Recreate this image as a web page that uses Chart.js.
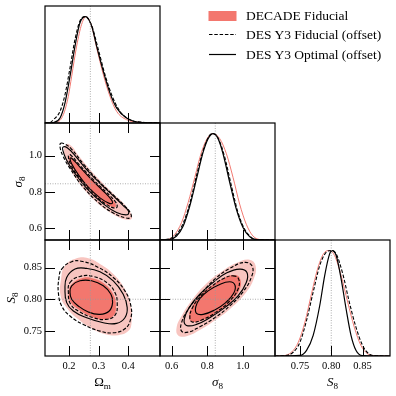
<!DOCTYPE html>
<html><head><meta charset="utf-8">
<script src="https://cdn.jsdelivr.net/npm/chart.js@4.4.0/dist/chart.umd.min.js"></script>
<style>
html,body{margin:0;padding:0;background:#fff;width:396px;height:396px;overflow:hidden;}
#wrap{position:relative;width:396px;height:396px;}
canvas{position:absolute;left:0;top:0;}
.t{position:absolute;font-family:"Liberation Serif","DejaVu Serif",serif;color:#000;white-space:nowrap;line-height:1;}
.t sub{font-size:70%;vertical-align:-0.25em;}
.i{font-style:italic;}
</style></head><body>
<div id="wrap">
<canvas id="c0" width="396" height="396"></canvas>
<canvas id="c1" width="396" height="396"></canvas>
<canvas id="c2" width="396" height="396"></canvas>
<canvas id="c3" width="396" height="396"></canvas>
<canvas id="c4" width="396" height="396"></canvas>
<canvas id="c5" width="396" height="396"></canvas>
<svg style="position:absolute;left:0;top:0" width="396" height="396">
<rect x="208.5" y="11" width="28" height="10" fill="#F3776E"/>
<line x1="209" y1="34.5" x2="236" y2="34.5" stroke="#000" stroke-width="1.1" stroke-dasharray="3.5 1.8"/>
<line x1="209" y1="54.5" x2="236" y2="54.5" stroke="#000" stroke-width="1.2"/>
</svg>
<div class="t" style="left:246px;top:9px;font-size:13.5px;">DECADE Fiducial</div>
<div class="t" style="left:246px;top:28px;font-size:13.5px;">DES Y3 Fiducial (offset)</div>
<div class="t" style="left:246px;top:47.5px;font-size:13.5px;">DES Y3 Optimal (offset)</div>
<div class="t" style="left:102.5px;top:383px;font-size:13px;transform:translate(-50%,-50%);">&Omega;<sub>m</sub></div>
<div class="t" style="left:217.5px;top:383px;font-size:13px;transform:translate(-50%,-50%);"><span class="i">&sigma;</span><sub>8</sub></div>
<div class="t" style="left:332.5px;top:383px;font-size:13px;transform:translate(-50%,-50%);"><span class="i">S</span><sub>8</sub></div>
<div class="t" style="left:19px;top:181.5px;font-size:13px;transform:translate(-50%,-50%) rotate(-90deg);"><span class="i">&sigma;</span><sub>8</sub></div>
<div class="t" style="left:12px;top:298px;font-size:13px;transform:translate(-50%,-50%) rotate(-90deg);"><span class="i">S</span><sub>8</sub></div>
</div>
<script>
// ---- axis ranges & ticks ----
const omRange = [0.119, 0.507];
const sigRange = [0.535, 1.18];
const s8Range = [0.710, 0.894];
const pdfRange = [0, 1.1];
const omTicks = [0.2, 0.3, 0.4];
const sigTicks = [0.6, 0.8, 1.0];
const s8Ticks = [0.75, 0.80, 0.85];
const omRef = 0.272, sigRef = 0.845, s8Ref = 0.80;

// ---- 1D marginals [x, p] ----
const omDecade = [[0.119,0],[0.1585,0.006],[0.1809,0.079],[0.1978,0.252],[0.2090,0.440],[0.2258,0.723],[0.2426,0.928],[0.2572,1.0],[0.2763,0.912],[0.2932,0.708],[0.3156,0.456],[0.3380,0.252],[0.3605,0.110],[0.3942,0.031],[0.4391,0.006],[0.507,0]];
const omFid = [[0.119,0],[0.136,0.003],[0.1473,0.031],[0.1697,0.110],[0.1865,0.267],[0.2034,0.519],[0.2202,0.786],[0.2370,0.959],[0.2539,1.0],[0.2763,0.918],[0.2988,0.692],[0.3212,0.456],[0.3437,0.267],[0.3717,0.110],[0.4054,0.031],[0.4503,0.006],[0.507,0]];
const omOpt = [[0.119,0],[0.1473,0.005],[0.1697,0.047],[0.1865,0.189],[0.2034,0.440],[0.2202,0.723],[0.2370,0.943],[0.2561,1.0],[0.2763,0.912],[0.2932,0.723],[0.3156,0.487],[0.3380,0.283],[0.3605,0.142],[0.3942,0.047],[0.4391,0.006],[0.495,0],[0.507,0]];
const sigDecade = [[0.535,0],[0.5814,0.006],[0.6186,0.054],[0.6559,0.164],[0.6931,0.353],[0.7304,0.590],[0.7676,0.826],[0.8048,0.968],[0.8328,1.0],[0.8700,0.953],[0.9073,0.811],[0.9445,0.590],[0.9817,0.338],[1.0190,0.148],[1.0562,0.038],[1.1028,0.003],[1.18,0]];
const sigFid = [[0.535,0],[0.5907,0.013],[0.6279,0.054],[0.6652,0.158],[0.7024,0.347],[0.7397,0.606],[0.7769,0.842],[0.8104,0.978],[0.8328,1.0],[0.8607,0.959],[0.8980,0.779],[0.9352,0.511],[0.9724,0.259],[1.0097,0.101],[1.0469,0.025],[1.0842,0.003],[1.18,0]];
const sigOpt = [[0.535,0],[0.5907,0.006],[0.6279,0.038],[0.6652,0.132],[0.7024,0.322],[0.7397,0.574],[0.7769,0.826],[0.8048,0.953],[0.8328,1.0],[0.8607,0.953],[0.8886,0.811],[0.9259,0.543],[0.9631,0.290],[1.0004,0.117],[1.0376,0.032],[1.0749,0.003],[1.18,0]];
const s8Decade = [[0.71,0],[0.7237,0.003],[0.7368,0.038],[0.7474,0.132],[0.7579,0.322],[0.7684,0.590],[0.7789,0.842],[0.7895,0.984],[0.7974,1.0],[0.8053,0.953],[0.8158,0.763],[0.8263,0.511],[0.8368,0.274],[0.8474,0.101],[0.8579,0.022],[0.8711,0.003],[0.894,0]];
const s8Fid = [[0.71,0],[0.7263,0.003],[0.7395,0.038],[0.75,0.132],[0.7605,0.338],[0.7711,0.606],[0.7816,0.858],[0.7921,0.984],[0.8,1.0],[0.8079,0.968],[0.8184,0.779],[0.8289,0.511],[0.8395,0.274],[0.85,0.101],[0.8605,0.019],[0.8711,0.003],[0.894,0]];
const s8Opt = [[0.71,0],[0.75,0.006],[0.7605,0.054],[0.7711,0.196],[0.7816,0.479],[0.7895,0.763],[0.7974,0.968],[0.8016,1.0],[0.8079,0.953],[0.8158,0.732],[0.8237,0.448],[0.8316,0.196],[0.8395,0.054],[0.85,0.003],[0.894,0]];

// ---- 2D contours (closed loops) ----
const omSigDec95 = [[0.1930,1.064],[0.2100,1.050],[0.2258,1.015],[0.2651,0.935],[0.3044,0.865],[0.3493,0.792],[0.3886,0.730],[0.4088,0.682],[0.4120,0.655],[0.3998,0.646],[0.3661,0.662],[0.3268,0.700],[0.2819,0.760],[0.2314,0.855],[0.2000,0.940],[0.1830,1.020]];
const omSigDec68 = [[0.2090,0.990],[0.2426,0.932],[0.2819,0.864],[0.3212,0.801],[0.3493,0.753],[0.3583,0.724],[0.3493,0.715],[0.3156,0.744],[0.2707,0.809],[0.2314,0.888],[0.2034,0.963],[0.2000,0.996]];
const omSigOpt95 = [[0.1800,1.048],[0.1950,1.042],[0.2202,1.000],[0.2595,0.923],[0.3044,0.848],[0.3493,0.778],[0.3829,0.725],[0.4010,0.693],[0.3960,0.674],[0.3605,0.687],[0.3156,0.735],[0.2595,0.820],[0.2146,0.915],[0.1900,0.982],[0.1790,1.030]];
const omSigOpt68 = [[0.2090,0.986],[0.2370,0.937],[0.2763,0.868],[0.3156,0.805],[0.3414,0.760],[0.3470,0.740],[0.3358,0.737],[0.3044,0.767],[0.2651,0.826],[0.2314,0.895],[0.2090,0.955],[0.2034,0.984]];
const omSigFid95 = [[0.1720,1.068],[0.1880,1.062],[0.2090,1.035],[0.2483,0.955],[0.2988,0.862],[0.3493,0.783],[0.3886,0.722],[0.4088,0.679],[0.4076,0.658],[0.3886,0.658],[0.3493,0.684],[0.3044,0.735],[0.2483,0.826],[0.2034,0.930],[0.1800,0.997],[0.1700,1.045]];
const omSigFid68 = [[0.2034,1.006],[0.2370,0.946],[0.2819,0.868],[0.3268,0.797],[0.3549,0.749],[0.3627,0.721],[0.3549,0.710],[0.3246,0.733],[0.2819,0.790],[0.2370,0.872],[0.2056,0.952],[0.1978,0.998]];

const omS8Dec95 = [[0.1865,0.8532],[0.2258,0.8649],[0.2651,0.8649],[0.3044,0.8559],[0.3493,0.8399],[0.3886,0.8160],[0.4088,0.7894],[0.4110,0.7628],[0.3998,0.7495],[0.3661,0.7431],[0.3268,0.7441],[0.2819,0.7521],[0.2314,0.7681],[0.1921,0.7867],[0.1719,0.8053],[0.1731,0.8319]];
const omS8Dec68 = [[0.2090,0.8239],[0.2426,0.8335],[0.2819,0.8330],[0.3212,0.8239],[0.3493,0.8080],[0.3583,0.7894],[0.3493,0.7734],[0.3156,0.7681],[0.2707,0.7734],[0.2314,0.7840],[0.2034,0.7973],[0.2000,0.8133]];
const omS8Opt95 = [[0.1921,0.8346],[0.2202,0.8479],[0.2595,0.8489],[0.3044,0.8436],[0.3493,0.8293],[0.3829,0.8080],[0.3964,0.7867],[0.3886,0.7707],[0.3605,0.7617],[0.3156,0.7628],[0.2595,0.7707],[0.2146,0.7814],[0.1921,0.7947],[0.1865,0.8160]];
const omS8Opt68 = [[0.2090,0.8213],[0.2370,0.8293],[0.2763,0.8293],[0.3156,0.8213],[0.3414,0.8080],[0.3470,0.7947],[0.3358,0.7814],[0.3044,0.7761],[0.2651,0.7798],[0.2314,0.7894],[0.2090,0.8000],[0.2034,0.8106]];
const omS8Fid95 = [[0.1753,0.8479],[0.2090,0.8596],[0.2483,0.8596],[0.2988,0.8505],[0.3493,0.8346],[0.3886,0.8133],[0.4088,0.7894],[0.4076,0.7681],[0.3886,0.7532],[0.3493,0.7468],[0.3044,0.7495],[0.2483,0.7601],[0.2034,0.7734],[0.1753,0.7894],[0.1641,0.8106],[0.1663,0.8346]];
const omS8Fid68 = [[0.2034,0.8266],[0.2370,0.8362],[0.2819,0.8362],[0.3268,0.8266],[0.3549,0.8106],[0.3627,0.7920],[0.3549,0.7745],[0.3246,0.7681],[0.2819,0.7707],[0.2370,0.7798],[0.2056,0.7920],[0.1978,0.8106]];

const sigS8Dec95 = [[1.0376,0.8628],[1.0711,0.8532],[1.0600,0.8319],[1.0097,0.8080],[0.9352,0.7867],[0.8514,0.7681],[0.7583,0.7511],[0.6838,0.7415],[0.6372,0.7426],[0.6279,0.7548],[0.6559,0.7734],[0.7210,0.8011],[0.7955,0.8250],[0.8793,0.8436],[0.9631,0.8574]];
const sigS8Dec68 = [[0.9538,0.8383],[0.9855,0.8319],[0.9817,0.8160],[0.9352,0.7973],[0.8607,0.7798],[0.7862,0.7681],[0.7210,0.7638],[0.6987,0.7707],[0.7117,0.7867],[0.7583,0.8053],[0.8235,0.8213],[0.8886,0.8330]];
const sigS8Opt95 = [[0.9817,0.8479],[1.0227,0.8426],[1.0190,0.8266],[0.9724,0.8053],[0.8980,0.7867],[0.8142,0.7707],[0.7397,0.7601],[0.6838,0.7585],[0.6708,0.7681],[0.6987,0.7867],[0.7583,0.8080],[0.8328,0.8266],[0.9073,0.8415]];
const sigS8Opt68 = [[0.9259,0.8277],[0.9557,0.8223],[0.9482,0.8096],[0.9035,0.7947],[0.8421,0.7830],[0.7769,0.7761],[0.7397,0.7777],[0.7359,0.7883],[0.7583,0.8011],[0.8048,0.8133],[0.8607,0.8223]];
const sigS8Fid95 = [[1.0097,0.8585],[1.0525,0.8521],[1.0469,0.8346],[1.0004,0.8117],[0.9259,0.7894],[0.8421,0.7707],[0.7583,0.7564],[0.6931,0.7479],[0.6559,0.7495],[0.6559,0.7628],[0.6931,0.7840],[0.7583,0.8064],[0.8421,0.8319],[0.9259,0.8489]];
const sigS8Fid68 = [[0.9445,0.8372],[0.9762,0.8319],[0.9724,0.8160],[0.9259,0.7973],[0.8514,0.7798],[0.7769,0.7681],[0.7173,0.7638],[0.7024,0.7707],[0.7173,0.7867],[0.7676,0.8064],[0.8328,0.8223],[0.8924,0.8330]];

// ---- styling ----
const RED = '#F3776E', PINK = '#F8C5C0', RED_LINE = '#F27A72';
const FONT = "'Liberation Serif','DejaVu Serif',serif";
const DASH = [3.5, 1.8];
const COLS = [45, 160, 275, 390];
const ROWS = [6, 123, 240, 356];
const XAXIS_H = 20, YAXIS_W = 44;

const pts = a => a.map(p => ({x: p[0], y: p[1]}));
function curve(a, color, dash, w) {
  return {data: pts(a), borderColor: color, borderDash: dash || [], borderWidth: w, pointRadius: 0, fill: false, cubicInterpolationMode: 'monotone'};
}
function ring(a, dash) {
  return {data: pts(a), borderColor: '#000', borderDash: dash || [], borderWidth: 1.15, pointRadius: 0, fill: false, tension: 0.45, loop: true};
}
function area(a, color) {
  return {data: pts(a), borderColor: 'rgba(0,0,0,0)', borderWidth: 0, backgroundColor: color, pointRadius: 0, fill: 'shape', tension: 0.45, loop: true};
}

const loopPlugin = {
  id: 'loopfix',
  afterDatasetUpdate(chart, args) {
    const ds = chart.data.datasets[args.index];
    if (ds.loop) {
      const l = args.meta.dataset;
      l._loop = true; l._fullLoop = true; l._pointsUpdated = false;
      delete l._segments; delete l._path;
    }
  }
};

function panelPlugin(cfg) {
  return {
    id: 'panel',
    afterDatasetsDraw(chart) {
      const ctx = chart.ctx, a = chart.chartArea, xs = chart.scales.x, ys = chart.scales.y;
      ctx.save();
      ctx.strokeStyle = '#9a9a9a'; ctx.lineWidth = 0.8; ctx.setLineDash([1, 1.5]);
      const seg = (x1, y1, x2, y2) => { ctx.beginPath(); ctx.moveTo(x1, y1); ctx.lineTo(x2, y2); ctx.stroke(); };
      if (cfg.refX != null) { const p = xs.getPixelForValue(cfg.refX); seg(p, a.top, p, a.bottom); }
      if (cfg.refY != null) { const p = ys.getPixelForValue(cfg.refY); seg(a.left, p, a.right, p); }
      ctx.setLineDash([]); ctx.strokeStyle = '#000'; ctx.lineWidth = 1;
      const L = 10;
      cfg.xt.forEach(v => {
        const p = Math.round(xs.getPixelForValue(v)) + 0.5;
        seg(p, a.bottom, p, a.bottom - L);
        if (cfg.full) seg(p, a.top, p, a.top + L);
      });
      if (cfg.full) cfg.yt.forEach(v => {
        const p = Math.round(ys.getPixelForValue(v)) + 0.5;
        seg(a.left, p, a.left + L, p);
        seg(a.right, p, a.right - L, p);
      });
      ctx.lineWidth = 1.2;
      ctx.strokeRect(a.left, a.top, a.right - a.left, a.bottom - a.top);
      ctx.restore();
    }
  };
}

function axis(range, ticks, digits, show, horiz) {
  return {
    type: 'linear', min: range[0], max: range[1], display: show,
    grid: {display: false, drawTicks: false}, border: {display: false},
    afterBuildTicks: s => { s.ticks = ticks.map(v => ({value: v})); },
    afterFit: s => { if (horiz) s.height = show ? XAXIS_H : 0; else s.width = show ? YAXIS_W : 0; },
    ticks: {autoSkip: false, maxRotation: 0, padding: horiz ? 4 : 3, color: '#000',
      font: {family: FONT, size: 10.5}, callback: v => Number(v).toFixed(digits)}
  };
}

function makePanel(id, col, row, xr, xt, xd, yr, yt, yd, showX, showY, datasets, cfg) {
  new Chart(document.getElementById(id), {
    type: 'line',
    data: {datasets},
    options: {
      responsive: false, animation: false, events: [],
      layout: {padding: {
        left: COLS[col] - (showY ? YAXIS_W : 0), top: ROWS[row],
        right: 396 - COLS[col + 1], bottom: 396 - ROWS[row + 1] - (showX ? XAXIS_H : 0)}},
      plugins: {legend: {display: false}, tooltip: {enabled: false}},
      scales: {x: axis(xr, xt, xd, showX, true), y: axis(yr, yt, yd, showY, false)}
    },
    plugins: [loopPlugin, panelPlugin(Object.assign({xt, yt}, cfg))]
  });
}

// 1D panels
makePanel('c0', 0, 0, omRange, omTicks, 1, pdfRange, [], 1, false, false,
  [curve(omOpt, '#000', [], 1.2), curve(omFid, '#000', DASH, 1.1), curve(omDecade, RED_LINE, [], 1.0)],
  {refX: omRef, full: false});
makePanel('c3', 1, 1, sigRange, sigTicks, 1, pdfRange, [], 1, false, false,
  [curve(sigOpt, '#000', [], 1.2), curve(sigFid, '#000', DASH, 1.1), curve(sigDecade, RED_LINE, [], 1.0)],
  {refX: sigRef, full: false});
makePanel('c5', 2, 2, s8Range, s8Ticks, 2, pdfRange, [], 1, true, false,
  [curve(s8Opt, '#000', [], 1.2), curve(s8Fid, '#000', DASH, 1.1), curve(s8Decade, RED_LINE, [], 1.0)],
  {refX: s8Ref, full: false});
// 2D panels
makePanel('c1', 0, 1, omRange, omTicks, 1, sigRange, sigTicks, 1, false, true,
  [ring(omSigOpt68), ring(omSigOpt95), ring(omSigFid68, DASH), ring(omSigFid95, DASH), area(omSigDec68, RED), area(omSigDec95, PINK)],
  {refX: omRef, refY: sigRef, full: true});
makePanel('c2', 0, 2, omRange, omTicks, 1, s8Range, s8Ticks, 2, true, true,
  [ring(omS8Opt68), ring(omS8Opt95), ring(omS8Fid68, DASH), ring(omS8Fid95, DASH), area(omS8Dec68, RED), area(omS8Dec95, PINK)],
  {refX: omRef, refY: s8Ref, full: true});
makePanel('c4', 1, 2, sigRange, sigTicks, 1, s8Range, s8Ticks, 2, true, false,
  [ring(sigS8Opt68), ring(sigS8Opt95), ring(sigS8Fid68, DASH), ring(sigS8Fid95, DASH), area(sigS8Dec68, RED), area(sigS8Dec95, PINK)],
  {refX: sigRef, refY: s8Ref, full: true});
</script>
</body></html>
